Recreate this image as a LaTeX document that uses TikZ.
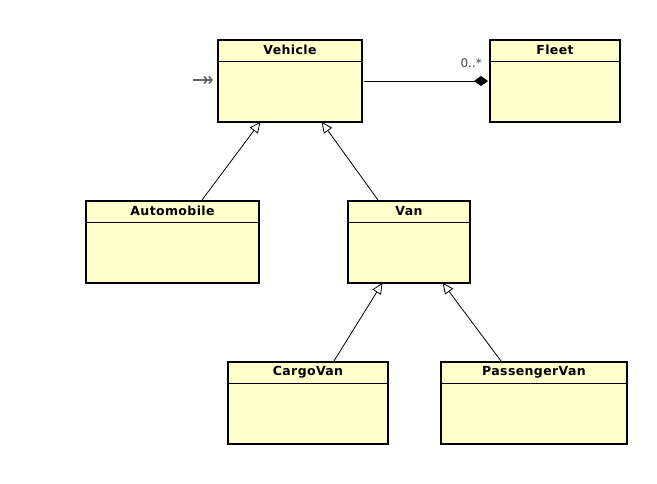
\documentclass[tikz,border=0pt]{standalone}
\usepackage{fontspec}
\setmainfont{DejaVu Sans}
\usetikzlibrary{arrows.meta}
\definecolor{classfill}{RGB}{255,255,204}
\definecolor{labelgray}{RGB}{70,70,70}
\tikzset{
  classbox/.style={draw=black, line width=2pt, fill=classfill, rectangle, inner sep=0pt, anchor=north west},
  classtitle/.style={font=\bfseries\fontsize{12.5}{14}\selectfont\addfontfeatures{LetterSpace=3}, anchor=center, inner sep=0pt},
  headline/.style={line width=0.8pt},
  generalization/.style={line width=0.8pt, -{Triangle[open, length=11pt, width=10pt, fill=white, line width=0.8pt]}, shorten >=1pt},
  composition/.style={line width=0.9pt, {Diamond[length=14pt, width=10pt]}-},
  multlabel/.style={font=\fontsize{12}{13}\selectfont, text=labelgray, inner sep=0pt},
  entryarrow/.style={draw=gray!80!black, line width=2pt, -{Straight Barb[length=3pt, width=7pt, line width=1.6pt] Straight Barb[length=3pt, width=7pt, line width=1.6pt]}}
}
\begin{document}
\begin{tikzpicture}[x=1pt, y=-1pt]
\useasboundingbox (0,0) rectangle (657,483);
% classes
\node[classbox, minimum width=144pt, minimum height=82pt] (veh) at (217,39) {};
\node[classbox, minimum width=130pt, minimum height=82pt] (fleet) at (489,39) {};
\node[classbox, minimum width=173pt, minimum height=82pt] (auto) at (85,200) {};
\node[classbox, minimum width=122pt, minimum height=82pt] (van) at (347,200) {};
\node[classbox, minimum width=160pt, minimum height=82pt] (cargo) at (227,361) {};
\node[classbox, minimum width=186pt, minimum height=82pt] (pass) at (440,361) {};
% header lines and titles
\foreach \n/\t in {veh/Vehicle, fleet/Fleet, auto/Automobile, van/Van, cargo/CargoVan, pass/PassengerVan}{
  \draw[headline] ([yshift=-22pt]\n.north west) -- ([yshift=-22pt]\n.north east);
  \node[classtitle] (\n-title) at ([yshift=-11pt]\n.north) {\t};
}
% generalizations
\coordinate (autoTop) at (202,200);
\coordinate (vehA) at (261,121);
\coordinate (vanTop) at (378,200);
\coordinate (vehB) at (321,121);
\coordinate (cargoTop) at (334,361);
\coordinate (vanA) at (383,282);
\coordinate (passTop) at (501,361);
\coordinate (vanB) at (442,282);
\draw[generalization] (autoTop) -- (vehA);
\draw[generalization] (vanTop) -- (vehB);
\draw[generalization] (cargoTop) -- (vanA);
\draw[generalization] (passTop) -- (vanB);
% composition
\draw[composition] ([xshift=-1pt]fleet.west) -- ([xshift=1pt]veh.east);
\node[multlabel, anchor=south east] (mult) at (482,68) {0..*};
% entry marker
\coordinate (entryStart) at (193,80);
\coordinate (entryEnd) at (213,80);
\draw[entryarrow] (entryStart) -- (entryEnd);
\end{tikzpicture}
\end{document}
